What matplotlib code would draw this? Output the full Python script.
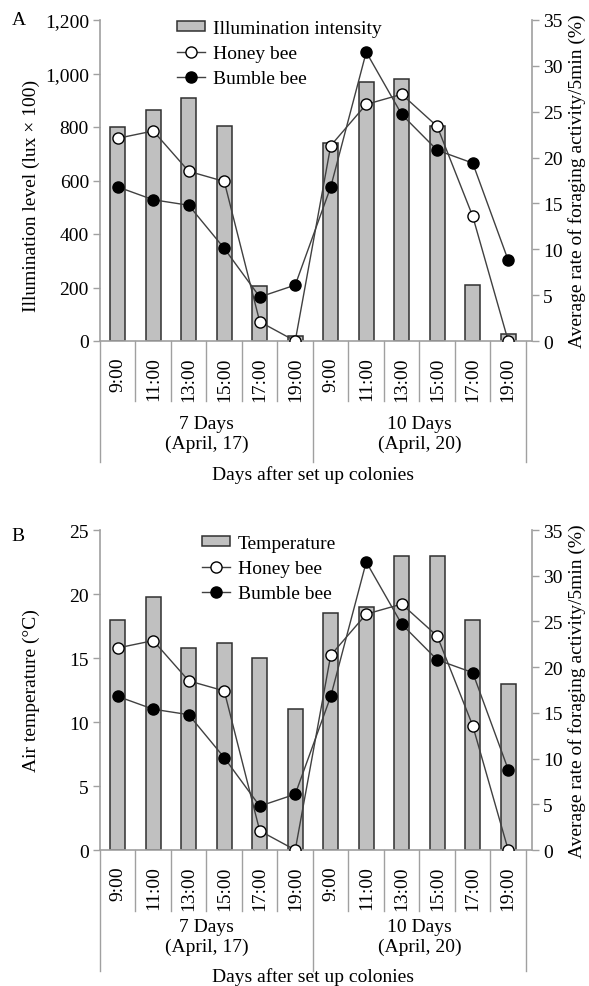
import matplotlib.pyplot as plt
from matplotlib.lines import Line2D
from matplotlib.patches import Patch
from matplotlib.ticker import FuncFormatter

plt.rcParams['font.family'] = ['Liberation Serif', 'DejaVu Serif']
plt.rcParams['font.size'] = 14

# data
times = ['9:00', '11:00', '13:00', '15:00', '17:00', '19:00'] * 2
groups = ['7 Days\n(April, 17)', '10 Days\n(April, 20)']
illum = [800, 865, 910, 805, 205, 20, 740, 970, 980, 805, 210, 25]
temp = [18.0, 19.8, 15.8, 16.2, 15.0, 11.0, 18.5, 19.0, 23.0, 23.0, 18.0, 13.0]
honey = [22.1, 22.9, 18.5, 17.4, 2.1, 0.0, 21.3, 25.8, 26.9, 23.4, 13.6, 0.0]
bumble = [16.8, 15.4, 14.8, 10.1, 4.8, 6.1, 16.8, 31.5, 24.7, 20.8, 19.4, 8.8]

GRAY = '#a0a0a0'
LINE = '#404040'

fig = plt.figure(figsize=(5.89, 9.87), dpi=100)


def panel(rect, bars, bar_name, ymax, ystep, ylabel, ylab_y, fmt,
          inner, outer, grp_y, xl_y, leg_xy, letter, letter_y):
    ax = fig.add_axes(rect)
    ax2 = ax.twinx()
    x = list(range(len(times)))
    ax.bar(x, bars, width=0.42, color='#c0c0c0', edgecolor='#303030', linewidth=1.1, zorder=2)
    ax2.plot(x, honey, '-o', color=LINE, lw=1.0, ms=8, mfc='white', mec='black', mew=1.0, zorder=3)
    ax2.plot(x, bumble, '-o', color=LINE, lw=1.0, ms=8, mfc='black', mec='black', zorder=4)

    ax.set_xlim(-0.5, 11.67)
    ax.set_ylim(0, ymax)
    ax.set_yticks([i * ystep for i in range(int(ymax / ystep) + 1)])
    ax.yaxis.set_major_formatter(FuncFormatter(fmt))
    ax2.set_ylim(0, 35)
    ax2.set_yticks(range(0, 36, 5))

    for a in (ax, ax2):
        for s in a.spines.values():
            s.set_visible(False)
        a.tick_params(axis='y', colors=GRAY, labelcolor='black', length=5, width=1, pad=3)
    ax.spines['left'].set_visible(True)
    ax.spines['bottom'].set_visible(True)
    ax2.spines['right'].set_visible(True)
    for s in (ax.spines['left'], ax.spines['bottom'], ax2.spines['right']):
        s.set_color(GRAY)
        s.set_linewidth(1.2)

    ax.set_xticks(x)
    ax.set_xticklabels(times, rotation=90, va='top', ha='center')
    ax.tick_params(axis='x', length=0, pad=11)

    tr = ax.get_xaxis_transform()
    for k in range(13):
        bottom = outer if k in (0, 6, 12) else inner
        ax.plot([k - 0.5, k - 0.5], [0, bottom], transform=tr, clip_on=False,
                color=GRAY, lw=1.0)
    ax.text(2.5, grp_y, groups[0], transform=tr, ha='center', va='center', linespacing=1.2)
    ax.text(8.5, grp_y, groups[1], transform=tr, ha='center', va='center', linespacing=1.2)
    ax.text(5.5, xl_y, 'Days after set up colonies', transform=tr, ha='center', va='center')

    ax.set_ylabel(ylabel)
    ax.yaxis.set_label_coords(-0.14, ylab_y)
    ax2.set_ylabel('Average rate of foraging activity/5min (%)')
    ax2.yaxis.set_label_coords(1.083, 0.5)

    handles = [Patch(facecolor='#c0c0c0', edgecolor='#303030', linewidth=1.1),
               Line2D([], [], color=LINE, lw=1, marker='o', ms=8, mfc='white', mec='black'),
               Line2D([], [], color=LINE, lw=1, marker='o', ms=8, mfc='black', mec='black')]
    ax2.legend(handles, [bar_name, 'Honey bee', 'Bumble bee'], loc='upper left',
               bbox_to_anchor=leg_xy, frameon=False, borderaxespad=0, borderpad=0,
               handlelength=1.45, handleheight=0.45, handletextpad=0.4, labelspacing=0.42,
               numpoints=1)
    fig.text(0.02, letter_y, letter, fontsize=14)


panel([100 / 589, 1 - 342 / 987, 432 / 589, 321 / 987],
      illum, 'Illumination intensity', 1200, 200, 'Illumination level (lux × 100)', 0.455,
      lambda v, p: f'{int(v):,}', -0.187, -0.377, -0.287, -0.414, (0.178, 1.0),
      'A', 1 - 25 / 987)

panel([100 / 589, 1 - 851 / 987, 432 / 589, 320 / 987],
      temp, 'Temperature', 25, 5, 'Air temperature (°C)', 0.5,
      lambda v, p: f'{int(v)}', -0.19, -0.378, -0.270, -0.394, (0.236, 0.985),
      'B', 1 - 541 / 987)

fig.savefig('out.png', dpi=100)
